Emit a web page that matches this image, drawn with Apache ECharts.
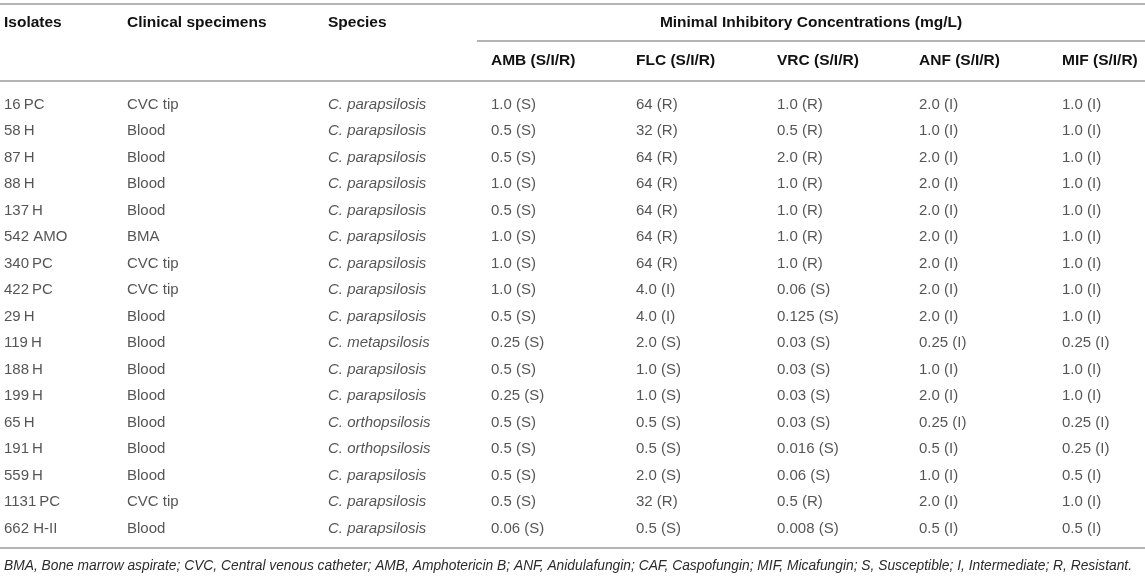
<!DOCTYPE html>
<html>
<head>
<meta charset="utf-8">
<script src="https://cdn.jsdelivr.net/npm/echarts@6/dist/echarts.min.js"></script>
<style>
  html, body { margin: 0; padding: 0; background: #fff; }
  #main { width: 1145px; height: 576px; }
</style>
</head>
<body>
<div id="main"></div>
<script>
// 表格数据
var isolates = ['16\u2009PC', '58\u2009H', '87\u2009H', '88\u2009H', '137\u2009H', '542 AMO', '340\u2009PC', '422\u2009PC', '29\u2009H',
    '119\u2009H', '188\u2009H', '199\u2009H', '65\u2009H', '191\u2009H', '559\u2009H', '1131\u2009PC', '662 H-II'];
var specimens = ['CVC tip', 'Blood', 'Blood', 'Blood', 'Blood', 'BMA', 'CVC tip', 'CVC tip', 'Blood',
    'Blood', 'Blood', 'Blood', 'Blood', 'Blood', 'Blood', 'CVC tip', 'Blood'];
var species = ['C. parapsilosis', 'C. parapsilosis', 'C. parapsilosis', 'C. parapsilosis', 'C. parapsilosis',
    'C. parapsilosis', 'C. parapsilosis', 'C. parapsilosis', 'C. parapsilosis', 'C. metapsilosis',
    'C. parapsilosis', 'C. parapsilosis', 'C. orthopsilosis', 'C. orthopsilosis', 'C. parapsilosis',
    'C. parapsilosis', 'C. parapsilosis'];
var amb = ['1.0 (S)', '0.5 (S)', '0.5 (S)', '1.0 (S)', '0.5 (S)', '1.0 (S)', '1.0 (S)', '1.0 (S)', '0.5 (S)',
    '0.25 (S)', '0.5 (S)', '0.25 (S)', '0.5 (S)', '0.5 (S)', '0.5 (S)', '0.5 (S)', '0.06 (S)'];
var flc = ['64 (R)', '32 (R)', '64 (R)', '64 (R)', '64 (R)', '64 (R)', '64 (R)', '4.0 (I)', '4.0 (I)',
    '2.0 (S)', '1.0 (S)', '1.0 (S)', '0.5 (S)', '0.5 (S)', '2.0 (S)', '32 (R)', '0.5 (S)'];
var vrc = ['1.0 (R)', '0.5 (R)', '2.0 (R)', '1.0 (R)', '1.0 (R)', '1.0 (R)', '1.0 (R)', '0.06 (S)', '0.125 (S)',
    '0.03 (S)', '0.03 (S)', '0.03 (S)', '0.03 (S)', '0.016 (S)', '0.06 (S)', '0.5 (R)', '0.008 (S)'];
var anf = ['2.0 (I)', '1.0 (I)', '2.0 (I)', '2.0 (I)', '2.0 (I)', '2.0 (I)', '2.0 (I)', '2.0 (I)', '2.0 (I)',
    '0.25 (I)', '1.0 (I)', '2.0 (I)', '0.25 (I)', '0.5 (I)', '1.0 (I)', '2.0 (I)', '0.5 (I)'];
var mif = ['1.0 (I)', '1.0 (I)', '1.0 (I)', '1.0 (I)', '1.0 (I)', '1.0 (I)', '1.0 (I)', '1.0 (I)', '1.0 (I)',
    '0.25 (I)', '1.0 (I)', '1.0 (I)', '0.25 (I)', '0.25 (I)', '0.5 (I)', '1.0 (I)', '0.5 (I)'];

var headers = ['Isolates', 'Clinical specimens', 'Species'];
var drugHeaders = ['AMB (S/I/R)', 'FLC (S/I/R)', 'VRC (S/I/R)', 'ANF (S/I/R)', 'MIF (S/I/R)'];
var groupTitle = 'Minimal Inhibitory Concentrations (mg/L)';
var footnote = 'BMA, Bone marrow aspirate; CVC, Central venous catheter; AMB, Amphotericin B; ANF, Anidulafungin; ' +
    'CAF, Caspofungin; MIF, Micafungin; S, Susceptible; I, Intermediate; R, Resistant.';

// 版式
var W = 1145;
var colLeft = [4, 127, 328, 491, 636, 777, 919, 1062];
var FONT = '"Liberation Sans", Arial, Helvetica, sans-serif';
var ruleColor = '#b4b4b4';
var textColor = '#2b2b2b';

var columns = [isolates, specimens, species, amb, flc, vrc, anf, mif];

function buildSeries() {
    return columns.map(function (col, c) {
        return {
            type: 'scatter',
            symbolSize: 0,
            silent: true,
            data: col.map(function (txt, i) {
                return { value: [colLeft[c], i], name: txt };
            }),
            label: {
                show: true,
                position: 'right',
                distance: 0,
                formatter: function (p) { return p.name; },
                color: textColor,
                fontFamily: FONT,
                fontSize: 15,
                fontStyle: c === 2 ? 'italic' : 'normal'
            }
        };
    });
}

function buildGraphic() {
    var g = [];
    function rule(x1, y, x2, w) {
        g.push({ type: 'line', shape: { x1: x1, y1: y, x2: x2, y2: y },
            style: { stroke: ruleColor, lineWidth: w || 2 }, silent: true });
    }
    function txt(x, y, s, opt) {
        opt = opt || {};
        g.push({ type: 'text', x: x, y: y, silent: true, style: {
            text: s, fill: opt.fill || '#111', font: (opt.style || 'normal') + ' ' + (opt.weight || 'bold') + ' ' +
                (opt.size || 15.5) + 'px ' + FONT,
            textAlign: opt.align || 'left', textVerticalAlign: 'middle' } });
    }
    rule(0, 4, W);
    rule(colLeft[3] - 14, 41, W);
    rule(0, 81, W);
    rule(0, 548, W);
    headers.forEach(function (h, i) { txt(colLeft[i], 23, h); });
    txt((colLeft[3] - 14 + W) / 2, 23, groupTitle, { align: 'center' });
    drugHeaders.forEach(function (h, i) { txt(colLeft[i + 3], 61, h); });
    txt(4, 566, footnote, { style: 'italic', weight: 'normal', size: 13.8, fill: textColor });
    return g;
}

var chart = echarts.init(document.getElementById('main'));
chart.setOption({
    animation: false,
    backgroundColor: '#fff',
    grid: { left: 0, right: 0, top: 91.5, bottom: 34 },
    xAxis: { type: 'value', min: 0, max: W, show: false },
    yAxis: { type: 'category', data: isolates.map(function (v, i) { return i; }), inverse: true, show: false },
    series: buildSeries(),
    graphic: buildGraphic()
});
</script>
</body>
</html>
